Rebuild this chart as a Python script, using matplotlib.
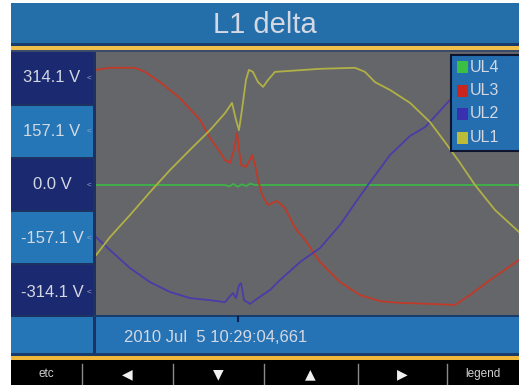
import matplotlib
matplotlib.use("Agg")
import matplotlib.pyplot as plt
from matplotlib.patches import Rectangle

plt.rcParams['font.family'] = ['Liberation Sans', 'DejaVu Sans']

# time in ms, voltage in V
t_ul3 = [0, 0.66, 1.84, 2.32, 3.03, 3.97, 4.92, 5.39, 5.86, 6.10, 6.34, 6.52, 6.67, 6.76, 6.86,
         7.09, 7.23, 7.38, 7.52, 7.66, 7.85, 8.13, 8.56, 8.94, 9.41, 9.88, 10.59, 11.54, 12.48,
         13.43, 14.37, 15.79, 16.97, 17.68, 18.63, 20]
ul3 = [338, 344, 344, 332, 302, 255, 191, 138, 97, 73, 65, 103, 153, 103, 59,
       53, 68, 88, 59, 15, -29, -59, -47, -68, -126, -161, -226, -285, -323,
       -341, -346, -349, -352, -323, -279, -220]

t_ul2 = [0, 0.66, 1.61, 2.55, 3.50, 4.44, 5.39, 6.10, 6.34, 6.48, 6.62, 6.76, 6.86, 7.00,
         7.28, 7.66, 8.23, 8.70, 9.65, 10.59, 11.54, 12.25, 12.86, 13.90, 14.85, 15.56,
         16.74, 17.68, 18.63, 20]
ul2 = [-153, -191, -244, -285, -314, -332, -338, -344, -326, -317, -332, -294, -288, -338,
       -349, -332, -308, -279, -226, -185, -117, -53, 0, 88, 144, 170,
       250, 302, 338, 349]

t_ul1 = [0, 0.66, 1.61, 2.55, 3.50, 4.44, 5.39, 6.10, 6.43, 6.62, 6.76, 6.90, 7.09, 7.23,
         7.42, 7.66, 7.90, 8.13, 8.46, 9.17, 10.59, 12.25, 12.72, 13.19, 13.90, 14.85,
         15.79, 16.50, 17.21, 17.92, 18.86, 20]
ul1 = [-206, -153, -88, -21, 44, 103, 161, 211, 241, 191, 161, 220, 308, 338,
       332, 302, 288, 308, 332, 335, 341, 344, 332, 302, 279, 241,
       185, 126, 65, 0, -73, -138]

t_ul4 = [0, 6.1, 6.3, 6.5, 6.7, 6.9, 7.1, 7.3, 7.5, 20]
ul4 = [0, 0, -4, 3, -5, 2, -3, 4, 0, 0]

tick_vals = [314.1, 157.1, 0.0, -157.1, -314.1]
tick_labels = ["314.1 V", "157.1 V", "0.0 V", "-157.1 V", "-314.1 V"]
legend_names = ["UL4", "UL3", "UL2", "UL1"]
legend_colors = ["#3cc043", "#c8261e", "#3a2fae", "#bcbc38"]
buttons = ["etc", "\u25c0", "\u25bc", "\u25b2", "\u25b6", "legend"]

W, H = 519, 385
navy = "#1b2a70"
light = "#2476b6"
txt = "#d4d8e2"

fig = plt.figure(figsize=(W / 100, H / 100), dpi=100)
fig.patch.set_facecolor("white")

# background frame in pixel coordinates
bg = fig.add_axes([0, 0, 1, 1])
bg.set_xlim(0, W)
bg.set_ylim(H, 0)
bg.axis("off")

def box(ax, x, y, w, h, c, **kw):
    ax.add_patch(Rectangle((x, y), w, h, facecolor=c, edgecolor="none", **kw))

box(bg, 11, 3, 508, 41, "#246eaa")
box(bg, 11, 43, 508, 4, "#1a3c6a")
box(bg, 11, 46, 508, 4, "#efc04a")
box(bg, 11, 50, 508, 2, "#3a4a6a")
bg.text(265, 25, "L1 delta", color=txt, fontsize=21, ha="center", va="center")

box(bg, 11, 52, 85, 301, "#1d3260")
row_boxes = [(52, 52, navy), (106, 51, light), (159, 51, navy), (212, 51, light), (265, 50, navy), (317, 36, light)]
for y, h, c in row_boxes:
    box(bg, 11, y, 82, h, c)
box(bg, 93, 315, 426, 2, "#1a3c6a")
box(bg, 96, 317, 423, 36, "#2573b4")
box(bg, 11, 353, 508, 3, "#1a3c6a")
box(bg, 11, 356, 508, 4, "#efb83a")
box(bg, 11, 360, 508, 25, "black")
bg.text(124, 338, "2010 Jul  5 10:29:04,661", color=txt, fontsize=12, ha="left", va="center")
bg.plot([238, 238], [317, 321], color="#10204a", lw=1.5)

seps = [82, 173, 264, 358, 447]
for s in seps:
    bg.plot([s, s], [364, 385], color="#8a8a8a", lw=1)
centers = [46, 127, 218, 310, 402, 483]
for cx, b in zip(centers, buttons):
    if len(b) > 1:
        bg.text(cx, 374, b, color="#d0d0d0", fontsize=8.5, ha="center", va="center")
    else:
        bg.text(cx, 374, b, color="#f0f0f0", fontsize=10, ha="center", va="center",
                family=['DejaVu Sans'])

# main plot
x0, y0, x1, y1 = 96, 52, 519, 315
ax = fig.add_axes([x0 / W, 1 - y1 / H, (x1 - x0) / W, (y1 - y0) / H])
ax.set_facecolor("#65666a")
ax.set_xlim(0, 20)
ax.set_ylim(-381.6, 390.4)
for sp in ax.spines.values():
    sp.set_visible(False)
ax.set_xticks([])
ax.set_yticks([])

lw = 1.3
ax.plot(t_ul4, ul4, color="#3cb446", lw=lw)
ax.plot(t_ul3, ul3, color="#c03a28", lw=lw)
ax.plot(t_ul2, ul2, color="#4a3ca8", lw=lw)
ax.plot(t_ul1, ul1, color="#b0b046", lw=lw)

# y labels placed through data scale
for v, lab in zip(tick_vals, tick_labels):
    yy = 1 - (v + 381.6) / (390.4 + 381.6)
    py = y0 + yy * (y1 - y0)
    bg.text(52, py, lab, color=txt, fontsize=12, ha="center", va="center")
    bg.text(89, py, "<", color="#9aa6c8", fontsize=6, ha="center", va="center")

# legend overlay
ov = fig.add_axes([0, 0, 1, 1])
ov.set_xlim(0, W)
ov.set_ylim(H, 0)
ov.axis("off")
ov.add_patch(Rectangle((451, 55), 70, 96, facecolor="#246eb0", edgecolor="#0c1430", lw=1.5))
for i, (name, c) in enumerate(zip(legend_names, legend_colors)):
    yy = 67 + i * 23.5
    box(ov, 457, yy - 6, 11, 12, c)
    ov.text(470, yy, name, color=txt, fontsize=11.5, ha="left", va="center")

fig.savefig("out.png", dpi=100, facecolor="white")
